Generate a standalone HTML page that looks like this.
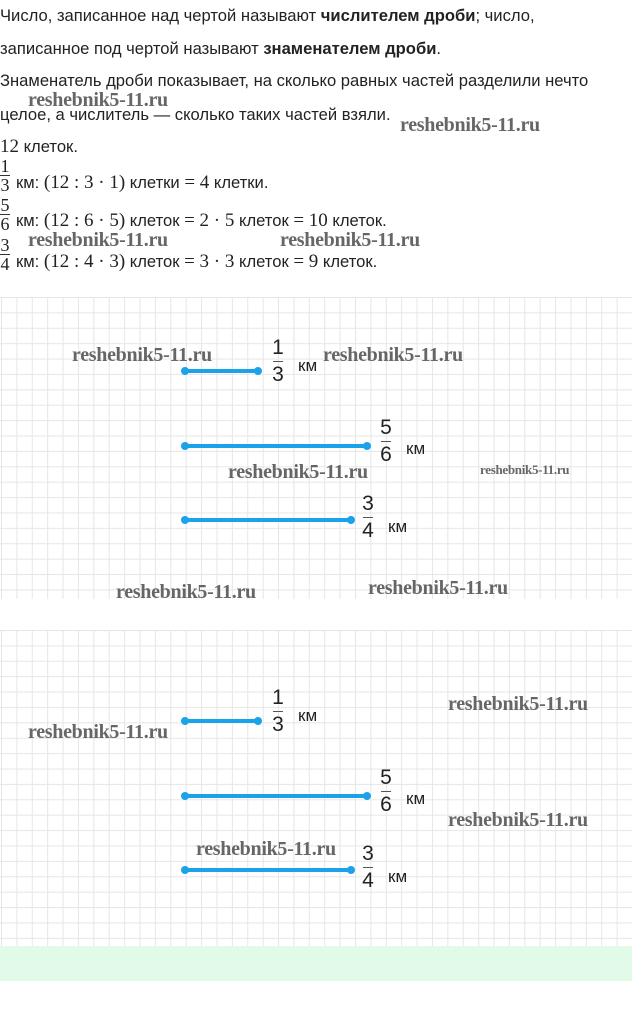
<!DOCTYPE html>
<html><head><meta charset="utf-8">
<style>
body{margin:0;width:632px;height:1015px;background:#fff;position:relative;overflow:hidden;font-family:"Liberation Sans",sans-serif;color:#222}
.t{position:absolute;left:0;font-size:16.6px;white-space:nowrap}
.m{font-family:"Liberation Serif",serif;font-size:19px}
.w{position:absolute;font-family:"Liberation Serif",serif;font-weight:bold;font-size:20px;color:#666;white-space:nowrap;letter-spacing:-0.3px}
.grid{position:absolute;left:0;width:632px;background-color:#fff;
background-image:linear-gradient(to right,#e6e6e6 1px,transparent 1px),linear-gradient(to bottom,#e6e6e6 1px,transparent 1px);
background-size:15.4px 15.4px;background-position:1px 0}
.seg{position:absolute;height:4px;background:#1aa3e8;border-radius:2px}
.seg:before,.seg:after{content:"";position:absolute;top:-2px;width:8px;height:8px;border-radius:50%;background:#1aa3e8}
.seg:before{left:-3px}.seg:after{right:-3px}
.f{position:absolute;font-size:21px;text-align:center;width:16px;line-height:22px;color:#222}
.f i{display:block;font-style:normal}
.f b{display:block;height:1px;background:#555;margin:2px 3px}
.km{position:absolute;font-size:17px;color:#222}
.fr{position:absolute;left:0;font-family:"Liberation Serif",serif;font-size:18px;line-height:16px;text-align:center;width:10px}
.fr b{display:block;height:1px;background:#333;margin:1px 0}
</style></head><body>
<div class="t" style="top:6px">Число, записанное над чертой называют <b>числителем дроби</b>; число,</div>
<div class="t" style="top:39px">записанное под чертой называют <b>знаменателем дроби</b>.</div>
<div class="t" style="top:71px">Знаменатель дроби показывает, на сколько равных частей разделили нечто</div>
<div class="t" style="top:105px">целое, а числитель — сколько таких частей взяли.</div>
<div class="t" style="top:136px"><span class="m">12</span> клеток.</div>
<div class="fr" style="top:158px">1<b></b>3</div>
<div class="t" style="top:172px;left:16px"> км: <span class="m">(12 : 3 · 1)</span> клетки <span class="m">= 4</span> клетки.</div>
<div class="fr" style="top:197px">5<b></b>6</div>
<div class="t" style="top:210px;left:16px"> км: <span class="m">(12 : 6 · 5)</span> клеток <span class="m">= 2 · 5</span> клеток <span class="m">= 10</span> клеток.</div>
<div class="fr" style="top:237px">3<b></b>4</div>
<div class="t" style="top:251px;left:16px"> км: <span class="m">(12 : 4 · 3)</span> клеток <span class="m">= 3 · 3</span> клеток <span class="m">= 9</span> клеток.</div>
<div class="w" style="left:28px;top:89px">reshebnik5-11.ru</div>
<div class="w" style="left:400px;top:114px">reshebnik5-11.ru</div>
<div class="w" style="left:28px;top:229px">reshebnik5-11.ru</div>
<div class="w" style="left:280px;top:229px">reshebnik5-11.ru</div>

<div class="grid" style="top:297px;height:302px"></div>
<div class="seg" style="left:184px;top:369px;width:75px"></div>
<div class="f" style="left:270px;top:337px"><i>1</i><b></b><i>3</i></div>
<div class="km" style="left:298px;top:356px">км</div>
<div class="seg" style="left:184px;top:444px;width:184px"></div>
<div class="f" style="left:378px;top:417px"><i>5</i><b></b><i>6</i></div>
<div class="km" style="left:406px;top:439px">км</div>
<div class="seg" style="left:184px;top:518px;width:168px"></div>
<div class="f" style="left:360px;top:493px"><i>3</i><b></b><i>4</i></div>
<div class="km" style="left:388px;top:517px">км</div>
<div class="w" style="left:72px;top:344px">reshebnik5-11.ru</div>
<div class="w" style="left:323px;top:344px">reshebnik5-11.ru</div>
<div class="w" style="left:228px;top:461px">reshebnik5-11.ru</div>
<div class="w" style="left:480px;top:462px;font-size:13px">reshebnik5-11.ru</div>
<div class="w" style="left:116px;top:581px">reshebnik5-11.ru</div>
<div class="w" style="left:368px;top:577px">reshebnik5-11.ru</div>

<div class="grid" style="top:630px;height:316px"></div>
<div style="position:absolute;left:0;top:946px;width:632px;height:35px;background:#e2fbe9"></div>
<div class="seg" style="left:184px;top:719px;width:75px"></div>
<div class="f" style="left:270px;top:687px"><i>1</i><b></b><i>3</i></div>
<div class="km" style="left:298px;top:706px">км</div>
<div class="seg" style="left:184px;top:794px;width:184px"></div>
<div class="f" style="left:378px;top:767px"><i>5</i><b></b><i>6</i></div>
<div class="km" style="left:406px;top:789px">км</div>
<div class="seg" style="left:184px;top:868px;width:168px"></div>
<div class="f" style="left:360px;top:843px"><i>3</i><b></b><i>4</i></div>
<div class="km" style="left:388px;top:867px">км</div>
<div class="w" style="left:448px;top:693px">reshebnik5-11.ru</div>
<div class="w" style="left:28px;top:721px">reshebnik5-11.ru</div>
<div class="w" style="left:448px;top:809px">reshebnik5-11.ru</div>
<div class="w" style="left:196px;top:838px">reshebnik5-11.ru</div>
</body></html>
